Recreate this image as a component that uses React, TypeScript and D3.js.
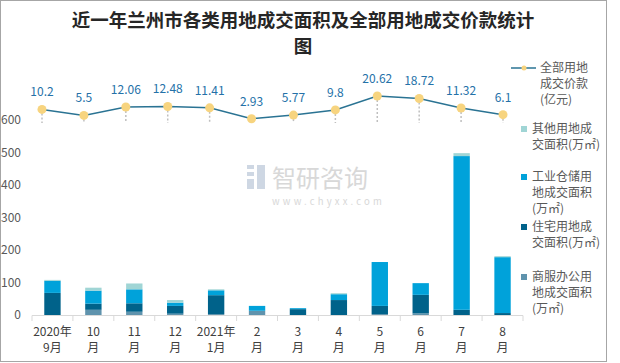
import React from 'react';
import * as d3 from 'd3';

// categories and values
const months = ['2020年|9月', '10|月', '11|月', '12|月', '2021年|1月', '2|月', '3|月', '4|月', '5|月', '6|月', '7|月', '8|月'];
const commercial = [0, 16, 10, 4, 3, 13, 0, 0, 3, 5, 0, 0];
const residential = [68, 19, 26, 24, 58, 0, 18, 46, 25, 57, 16, 6];
const industrial = [37, 40, 43, 10, 15, 15, 3, 18, 135, 36, 473, 172];
const other = [3, 9, 18, 8, 3, 0, 0, 3, 0, 0, 9, 3];
const price = [10.2, 5.5, 12.06, 12.48, 11.41, 2.93, 5.77, 9.8, 20.62, 18.72, 11.32, 6.1];
const yTicks = [0, 100, 200, 300, 400, 500, 600];

const seriesKeys = ['commercial', 'residential', 'industrial', 'other'];
const colors: Record<string, string> = {
    commercial: '#5f93ad',
    residential: '#00628a',
    industrial: '#00a2da',
    other: '#a0d5d5'
};

const legendBars = [
    { key: 'other', lines: ['其他用地成', '交面积(万㎡)'], y: 129 },
    { key: 'industrial', lines: ['工业仓储用', '地成交面积', '(万㎡)'], y: 177 },
    { key: 'residential', lines: ['住宅用地成', '交面积(万㎡)'], y: 227 },
    { key: 'commercial', lines: ['商服办公用', '地成交面积', '(万㎡)'], y: 277 }
];

const font = '"Noto Sans CJK SC", "Noto Sans", sans-serif';

export default function App() {
    const rows = months.map((m, i) => ({
        month: m,
        commercial: commercial[i],
        residential: residential[i],
        industrial: industrial[i],
        other: other[i]
    }));

    const x = d3.scaleBand<string>()
        .domain(months)
        .range([32, 523])
        .paddingInner(0.6)
        .paddingOuter(0.3);
    const step = x.step();

    const y = d3.scaleLinear().domain([0, 600]).range([315, 120]);

    // the price line sits on its own hidden axes
    const xLine = d3.scalePoint<string>().domain(months).range([42, 503]);
    const yLine = d3.scaleLinear().domain([0, 25]).range([122.5, 90.4]);

    const stacked = d3.stack<any>().keys(seriesKeys)(rows);

    const line = d3.line<number>()
        .x((d, i) => xLine(months[i]) as number)
        .y((d) => yLine(d));

    return (
        <svg width={620} height={363} style={{ position: 'absolute', left: 0, top: 0 }} fontFamily={font}>
            <rect x={0.5} y={0.5} width={606} height={361} fill="#fff" stroke="#a6a6a6" />

            <text x={303} y={27} textAnchor="middle" fontSize={18.5} fontWeight="bold" fill="#262626">
                近一年兰州市各类用地成交面积及全部用地成交价款统计
            </text>
            <text x={303} y={53} textAnchor="middle" fontSize={18.5} fontWeight="bold" fill="#262626">图</text>

            {/* watermark */}
            <g opacity={0.9}>
                <rect x={247} y={165} width={7} height={4} fill="#c9d3e0" />
                <rect x={247} y={172} width={7} height={4} fill="#c9d3e0" />
                <rect x={247} y={179} width={7} height={10} fill="#c9d3e0" />
                <rect x={257} y={165} width={8} height={24} fill="#c9d3e0" />
                <text x={272} y={187} fontSize={24} fill="#d4d4d4">智研咨询</text>
                <text x={272} y={205} fontSize={9.5} fill="#d4d4d4" letterSpacing={3.2}>www.chyxx.com</text>
            </g>

            {yTicks.map((t) => (
                <text key={t} x={21} y={y(t) + 4} textAnchor="end" fontSize={12} fill="#595959">{t}</text>
            ))}

            {stacked.map((s) => (
                <g key={s.key} fill={colors[s.key]}>
                    {s.map((d, i) => (
                        <rect key={i} x={x(months[i])} width={x.bandwidth()}
                              y={y(d[1])} height={Math.max(0, y(d[0]) - y(d[1]))} />
                    ))}
                </g>
            ))}

            <line x1={32} x2={523} y1={315.5} y2={315.5} stroke="#d9d9d9" />
            {d3.range(months.length + 1).map((i) => (
                <line key={i} x1={32 + i * step} x2={32 + i * step} y1={315.5} y2={321} stroke="#d9d9d9" />
            ))}

            {months.map((m) => {
                const [a, b] = m.split('|');
                const cx = (x(m) as number) + x.bandwidth() / 2;
                return (
                    <text key={m} x={cx} textAnchor="middle" fontSize={12} fill="#404040">
                        <tspan x={cx} y={336}>{a}</tspan>
                        <tspan x={cx} y={352}>{b}</tspan>
                    </text>
                );
            })}

            {/* price line */}
            {price.map((p, i) => (
                <line key={'drop' + i} x1={xLine(months[i])} x2={xLine(months[i])}
                      y1={yLine(p) + 4} y2={123} stroke="#bfbfbf" strokeWidth={1.5} strokeDasharray="2,2" />
            ))}
            <path d={line(price) as string} fill="none" stroke="#2a7393" strokeWidth={1.5} />
            {price.map((p, i) => (
                <circle key={'pt' + i} cx={xLine(months[i])} cy={yLine(p)} r={4.5} fill="#f7d47f" />
            ))}
            {price.map((p, i) => (
                <text key={'lb' + i} x={xLine(months[i])} y={yLine(p) - 13} textAnchor="middle"
                      fontSize={12} fill="#2471a8">{p}</text>
            ))}

            {/* legend */}
            <line x1={511} x2={536} y1={68} y2={68} stroke="#2a7393" strokeWidth={1.5} />
            <circle cx={524} cy={68} r={2.5} fill="#f7d47f" />
            {['全部用地', '成交价款', '(亿元)'].map((t, i) => (
                <text key={t} x={540} y={72 + i * 16} fontSize={12} fill="#595959">{t}</text>
            ))}
            {legendBars.map((l) => (
                <g key={l.key}>
                    <rect x={521} y={l.y - 3} width={6} height={6} fill={colors[l.key]} />
                    {l.lines.map((t, i) => (
                        <text key={i} x={532} y={l.y + 4 + i * 16} fontSize={12} fill="#595959">{t}</text>
                    ))}
                </g>
            ))}
        </svg>
    );
}
